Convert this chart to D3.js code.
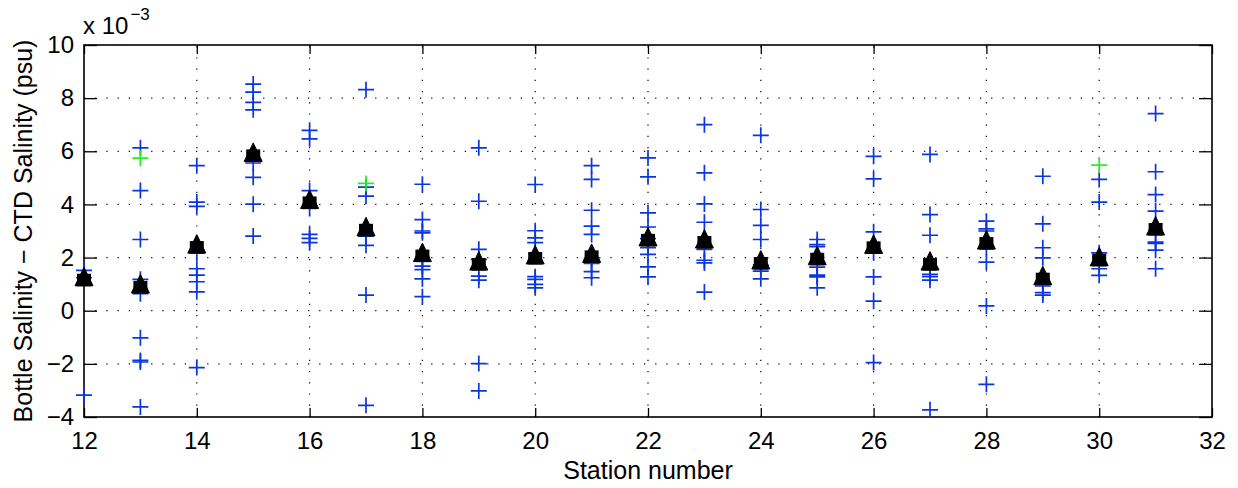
<!DOCTYPE html>
<html>
<head>
<meta charset="utf-8">
<script src="https://cdn.jsdelivr.net/npm/d3@7"></script>
<style>
  html, body { margin: 0; padding: 0; background: #fff; }
  svg { display: block; font-family: "Liberation Sans", Arial, Helvetica, sans-serif; }
</style>
</head>
<body>
<svg id="chart" width="1238" height="488"></svg>
<script>
// ---- data (salinity differences in units of 1e-3 psu) ----
const stations = [12, 13, 14, 15, 16, 17, 18, 19, 20, 21, 22, 23, 24, 25, 26, 27, 28, 29, 30, 31];
const meanDiff = [1.24, 0.97, 2.47, 5.92, 4.15, 3.12, 2.15, 1.83, 2.06, 2.12, 2.74, 2.66, 1.87, 2.03, 2.46, 1.83, 2.62, 1.28, 1.99, 3.15];
const bottleDiffs = [
  [1.52, 1.24, -3.18],
  [6.13, 4.52, 2.68, 1.18, 0.64, -1.02, -1.87, -1.93, -3.62],
  [5.46, 4.09, 3.93, 2.18, 1.58, 1.34, 1.09, 0.71, -2.14],
  [8.53, 8.23, 7.84, 7.56, 5.56, 5.02, 4.01, 2.81],
  [6.79, 6.47, 4.52, 3.85, 2.87, 2.72, 2.56],
  [8.32, 4.65, 4.31, 2.81, 2.46, 0.59, -3.56],
  [4.76, 3.43, 3.0, 2.93, 1.9, 1.68, 1.55, 1.2, 0.53],
  [6.13, 4.12, 2.31, 1.93, 1.30, 1.15, -1.99, -3.02],
  [4.75, 3.01, 2.74, 2.56, 1.28, 1.18, 0.99, 0.86],
  [5.46, 4.94, 3.78, 3.18, 2.87, 1.93, 1.78, 1.47, 1.24],
  [5.75, 5.04, 3.68, 3.15, 2.71, 2.37, 2.12, 1.65, 1.27],
  [7.0, 5.19, 4.02, 3.33, 2.31, 1.9, 1.80, 0.70],
  [6.6, 3.81, 3.21, 2.68, 1.72, 1.49, 1.2],
  [2.68, 2.49, 2.41, 1.64, 1.34, 1.27, 0.86],
  [5.81, 4.96, 2.97, 2.18, 1.27, 0.36, -1.95],
  [5.88, 3.62, 2.84, 1.37, 1.28, 1.15, -3.73],
  [3.37, 3.08, 3.0, 2.4, 1.83, 0.18, -2.77],
  [5.06, 3.27, 2.37, 1.99, 0.93, 0.68, 0.59],
  [4.94, 4.09, 2.18, 1.58, 1.33],
  [7.42, 5.23, 4.37, 3.75, 2.58, 2.53, 2.28, 1.58]
];
const flaggedStation = [13, 17, 30];
const flaggedDiff = [5.74, 4.79, 5.48];
const xTicks = [12, 14, 16, 18, 20, 22, 24, 26, 28, 30, 32];
const yTicks = [-4, -2, 0, 2, 4, 6, 8, 10];
const xLabel = "Station number";
const yLabel = "Bottle Salinity \u2212 CTD Salinity (psu)";

// ---- layout ----
const L = 84, R = 1212, T = 45, B = 417;
const svg = d3.select("#chart");

const x = d3.scaleLinear().domain([12, 32]).range([L, R]);
const y = d3.scaleLinear().domain([-4, 10]).range([B, T]);

// grid
const grid = svg.append("g").attr("stroke", "#000").attr("stroke-width", 1.2)
  .attr("stroke-dasharray", "1.2,10");
grid.selectAll("line.vx").data(xTicks.slice(1, -1)).join("line")
  .attr("x1", d => x(d)).attr("x2", d => x(d)).attr("y1", B).attr("y2", T);
grid.selectAll("line.hy").data(yTicks.slice(1, -1)).join("line")
  .attr("y1", d => y(d)).attr("y2", d => y(d)).attr("x1", L).attr("x2", R);

// axes with inner ticks
const fmt = d => (d < 0 ? "\u2212" + Math.abs(d) : String(d));
const axB = svg.append("g").attr("transform", `translate(0,${B})`)
  .call(d3.axisBottom(x).tickValues(xTicks).tickSizeInner(-9).tickSizeOuter(0).tickPadding(20).tickFormat(fmt));
const axT = svg.append("g").attr("transform", `translate(0,${T})`)
  .call(d3.axisTop(x).tickValues(xTicks).tickSizeInner(-9).tickSizeOuter(0).tickFormat(""));
const axL = svg.append("g").attr("transform", `translate(${L},0)`)
  .call(d3.axisLeft(y).tickValues(yTicks).tickSizeInner(-13).tickSizeOuter(0).tickPadding(10).tickFormat(fmt));
const axR = svg.append("g").attr("transform", `translate(${R},0)`)
  .call(d3.axisRight(y).tickValues(yTicks).tickSizeInner(-13).tickSizeOuter(0).tickFormat(""));
[axB, axT, axL, axR].forEach(a => {
  a.select(".domain").remove();
  a.selectAll(".tick line").attr("stroke", "#000").attr("stroke-width", 1.3);
  a.selectAll(".tick text").attr("fill", "#000").attr("font-size", 24)
    .attr("font-family", '"Liberation Sans", Arial, sans-serif');
});
axB.selectAll(".tick text").attr("dy", "0.71em").attr("y", 15);

// box
svg.append("rect").attr("x", L).attr("y", T).attr("width", R - L).attr("height", B - T)
  .attr("fill", "none").attr("stroke", "#000").attr("stroke-width", 1.6);

// blue pluses
const pts = [];
stations.forEach((s, i) => bottleDiffs[i].forEach(v => pts.push({ s, v })));
const plusPath = "M-8,0H8M0,-8V8";
svg.append("g").selectAll("path").data(pts).join("path")
  .attr("d", plusPath)
  .attr("transform", d => `translate(${x(d.s)},${y(d.v)})`)
  .attr("fill", "none").attr("stroke", "#0a36e0").attr("stroke-width", 1.7);

// flagged (green) pluses
svg.append("g").selectAll("path").data(flaggedStation.map((s, i) => ({ s, v: flaggedDiff[i] }))).join("path")
  .attr("d", plusPath)
  .attr("transform", d => `translate(${x(d.s)},${y(d.v)})`)
  .attr("fill", "none").attr("stroke", "#22ee22").attr("stroke-width", 1.7);

// mean markers (triangle over square)
const means = stations.map((s, i) => ({ s, v: meanDiff[i] }));
const mg = svg.append("g").selectAll("g").data(means).join("g")
  .attr("transform", d => `translate(${x(d.s)},${y(d.v)})`);
mg.append("rect").attr("x", -7).attr("y", -4).attr("width", 14).attr("height", 12.5).attr("fill", "#000");
mg.append("path").attr("d", "M0,-10.5L9,8L-9,8Z").attr("fill", "#000")
  .attr("stroke", "#000").attr("stroke-width", 1);

// labels
svg.append("text").attr("x", (L + R) / 2).attr("y", 479).attr("text-anchor", "middle")
  .attr("font-size", 25).attr("fill", "#000").text(xLabel);
svg.append("text").attr("transform", `translate(32,${(T + B) / 2}) rotate(-90)`)
  .attr("text-anchor", "middle").attr("font-size", 25).attr("fill", "#000").text(yLabel);

// exponent
const ex = svg.append("text").attr("x", 83).attr("y", 34).attr("font-size", 24).attr("fill", "#000");
ex.append("tspan").text("x 10");
ex.append("tspan").attr("dy", -14).attr("dx", 2).attr("font-size", 17).text("\u22123");
</script>
</body>
</html>
